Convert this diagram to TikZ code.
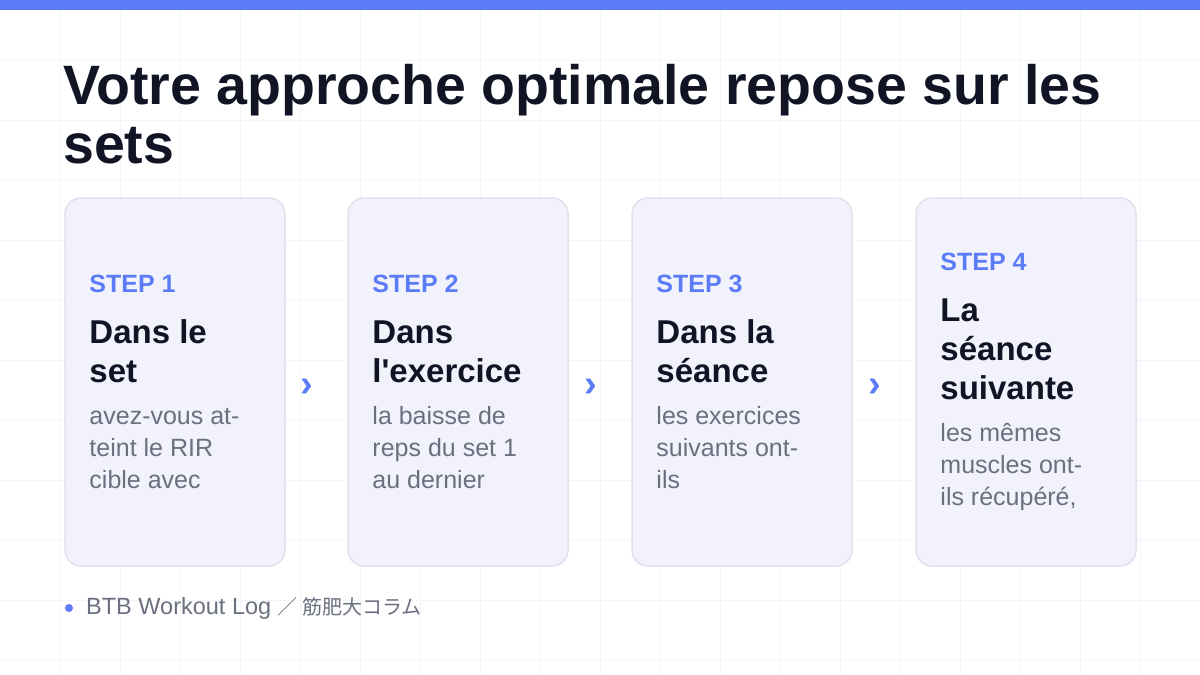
\documentclass[tikz,border=0pt]{standalone}
\usepackage{fontspec}
\setmainfont{Liberation Sans}[Ligatures=TeXOff]
\newfontfamily\jpfont{Noto Sans CJK JP}
\usetikzlibrary{positioning,calc}

\definecolor{accent}{HTML}{5B7CF6}
\definecolor{ink}{HTML}{111424}
\definecolor{muted}{HTML}{6B7080}
\definecolor{cardfill}{HTML}{F1F2FB}
\definecolor{cardline}{HTML}{E0E3EF}
\definecolor{gridline}{HTML}{F4F5F8}

\newcommand{\steplabel}[1]{\spaceskip=0pt\xspaceskip=0pt
  {\fontsize{25}{28}\selectfont\bfseries\color{accent}#1\par}}
\newcommand{\steptitle}[1]{\vspace{11.5pt}{\fontsize{33}{39}\selectfont\bfseries\color{ink}#1\par}}
\newcommand{\stepbody}[1]{\vspace{10.5pt}{\fontsize{25}{32}\selectfont\color{muted}#1\par}}

\begin{document}
\begin{tikzpicture}[x=1pt,y=-1pt,
  card/.style={draw=cardline,fill=cardfill,line width=1.5pt,rounded corners=16pt,
    minimum width=220pt,minimum height=368pt},
  content/.style={anchor=west,text width=200pt,align=left,inner sep=0pt},
  chevron/.style={text=accent,font=\fontsize{38}{38}\selectfont\bfseries,inner sep=0pt}]
  \useasboundingbox (0,0) rectangle (1200,675);
  \fill[white] (0,0) rectangle (1200,675);
  % faint grid
  \foreach \gx in {60,120,...,1140}
    \draw[gridline,line width=0.8pt] (\gx,10) -- (\gx,675);
  \foreach \gy in {60,120,...,660}
    \draw[gridline,line width=0.8pt] (0,\gy) -- (1200,\gy);
  \fill[accent] (0,0) rectangle (1200,10);

  \node[anchor=north west,align=left,inner sep=0pt,text=ink,
    font=\fontsize{55.5}{59}\selectfont\bfseries] (title) at (63,64)
    {Votre approche optimale repose sur les\\sets};

  \node[card] (card1) at (175,382) {};
  \node[card] (card2) at (458,382) {};
  \node[card] (card3) at (742,382) {};
  \node[card] (card4) at (1026,382) {};

  \node[content] (text1) at ($(card1.west)+(25,0)$)
    {\steplabel{STEP 1}\steptitle{Dans le\\set}\stepbody{avez-vous at-\\teint le RIR\\cible avec}};
  \node[content] (text2) at ($(card2.west)+(25,0)$)
    {\steplabel{STEP 2}\steptitle{Dans\\l'exercice}\stepbody{la baisse de\\reps du set 1\\au dernier}};
  \node[content] (text3) at ($(card3.west)+(25,0)$)
    {\steplabel{STEP 3}\steptitle{Dans la\\séance}\stepbody{les exercices\\suivants ont-\\ils}};
  \node[content] (text4) at ($(card4.west)+(25,0)$)
    {\steplabel{STEP 4}\steptitle{La\\séance\\suivante}\stepbody{les mêmes\\muscles ont-\\ils récupéré,}};

  \node[chevron] (arr1) at ($(card1.east)!0.35!(card2.west)+(0,6)$) {›};
  \node[chevron] (arr2) at ($(card2.east)!0.35!(card3.west)+(0,6)$) {›};
  \node[chevron] (arr3) at ($(card3.east)!0.35!(card4.west)+(0,6)$) {›};

  \fill[accent] (69,608) circle (4);
  \node[anchor=west,inner sep=0pt,text=muted,font=\fontsize{23.5}{26}\selectfont] (source) at (86,608)
    {BTB Workout Log {\jpfont\fontsize{20}{22}\selectfont ／ 筋肥大コラム}};
\end{tikzpicture}
\end{document}
